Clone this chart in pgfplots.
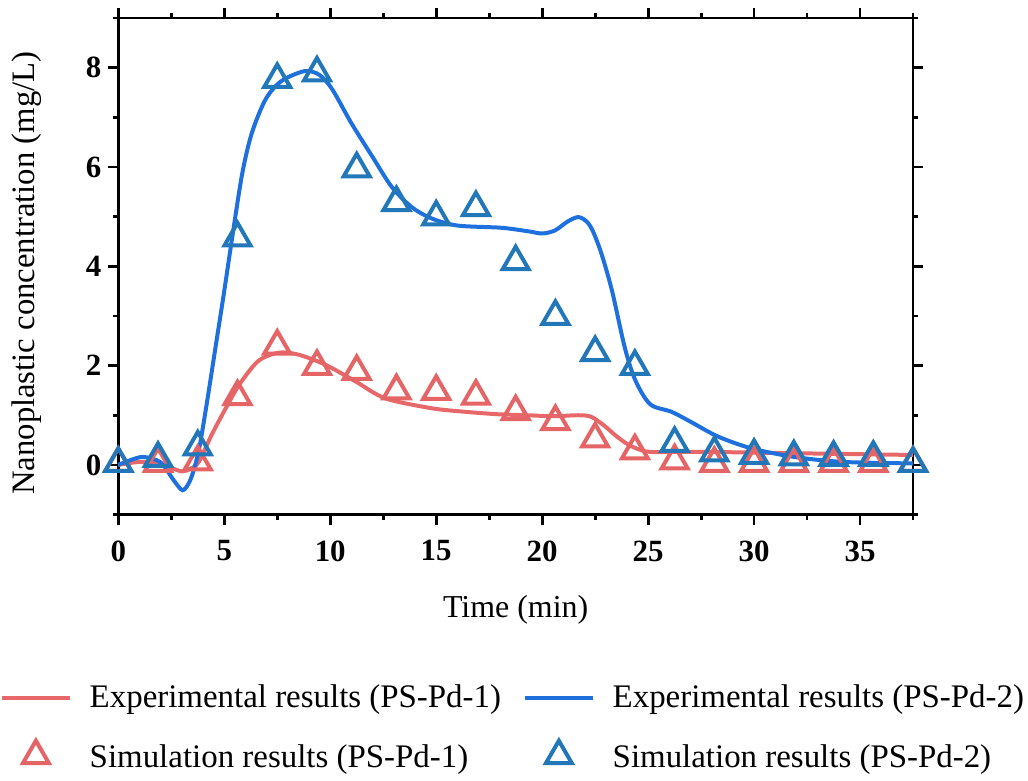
\documentclass[border=0pt]{standalone}
\usepackage{fontspec}
\setmainfont{Liberation Serif}
\usepackage{pgfplots}
\pgfplotsset{compat=1.18}

\definecolor{expred}{RGB}{232,104,106}
\definecolor{expblue}{RGB}{30,112,222}
\definecolor{simred}{RGB}{229,100,102}
\definecolor{simblue}{RGB}{33,119,184}

\begin{document}
\begin{tikzpicture}
\begin{axis}[
    scale only axis,
    width=398.5pt, height=249pt,
    xmin=0, xmax=37.5, ymin=-1, ymax=9,
    xtick={0,5,...,35}, minor xtick={2.5,7.5,...,37.5},
    ytick={0,2,4,6,8}, minor ytick={-1,1,3,5,7,9},
    tick align=outside,
    major tick length=5pt, minor tick length=2.5pt,
    axis line style={line width=1.4pt},
    every tick/.style={black, line width=1.4pt},
    tick label style={font=\fontsize{15.5}{18}\selectfont\bfseries},
    xticklabel style={yshift=-4.5pt},
    /pgf/number format/assume math mode=true,
    label style={font=\fontsize{16}{19}\selectfont},
    xlabel={Time (min)},
    xlabel style={at={(axis description cs:0.5,-0.207)}, anchor=base},
    ylabel={Nanoplastic concentration (mg/L)},
    ylabel style={font=\fontsize{16.4}{19}\selectfont,
        at={(axis description cs:-0.1154,0.486)}, anchor=center},
    clip=false,
    % a little white space above the frame, as in the original
    extra description/.code={\path (0,1) -- ++(0pt,9pt);},
    legend columns=2,
    legend cell align=left,
    legend style={draw=none, fill=none, inner xsep=0pt, inner ysep=3pt,
        at={(axis description cs:-0.1493,-0.322)}, anchor=north west,
        font=\fontsize{16.5}{19}\selectfont,
        row sep=12.9pt,
        /tikz/every odd column/.append style={column sep=7pt},
        /tikz/every even column/.append style={column sep=9pt}},
    legend image code/.code={\draw[mark repeat=2,mark phase=2,#1] plot coordinates {(0pt,0pt) (17pt,0pt) (34pt,0pt)};},
]

% experimental curves
\addplot[expred, line width=2pt, smooth] coordinates {
(0,0) (1.0,0.06) (1.9,0.03) (2.5,-0.06) (3.0,-0.13) (3.4,-0.08) (3.8,0.06)
(4.4,0.6) (5.07,1.14) (5.7,1.61) (6.6,2.09) (7.57,2.26) (8.5,2.22) (9.76,2.02)
(11.2,1.68) (12.6,1.34) (14.8,1.14) (16.35,1.07) (17.9,1.02) (19.3,1.0)
(20.5,0.98) (21.7,1.0) (22.3,0.97) (22.9,0.8) (23.5,0.58) (24.1,0.4)
(24.9,0.27) (26,0.26) (28,0.26) (32.7,0.23) (37.5,0.2)
};
\addlegendentry{Experimental results (PS-Pd-1)}

\addplot[expblue, line width=2pt, smooth] coordinates {
(0,0) (0.6,0.1) (1.2,0.16) (2.0,0.05) (2.6,-0.3) (3.03,-0.51) (3.35,-0.35)
(3.6,-0.05) (3.85,0.4) (4.2,1.3) (4.6,2.4) (5.0,3.5) (5.4,4.65) (5.85,5.87)
(6.3,6.68) (6.95,7.36) (7.7,7.73) (8.8,7.93) (9.5,7.85) (10.1,7.56) (11.0,6.88)
(12.0,6.2) (12.9,5.6) (13.85,5.19) (14.8,4.96) (16.0,4.82) (17.9,4.78)
(18.6,4.75) (19.4,4.70) (20.0,4.66) (20.6,4.72) (21.2,4.9) (21.7,4.99)
(22.1,4.9) (22.4,4.7) (22.8,4.25) (23.3,3.5) (23.9,2.36) (24.4,1.7)
(25.1,1.22) (26.1,1.07) (27.0,0.87) (28.3,0.57) (29.9,0.33) (31.9,0.16)
(34.2,0.06) (37.5,0.03)
};
\addlegendentry{Experimental results (PS-Pd-2)}

% simulation points
\addplot[only marks, simred, mark=triangle, mark size=7.5pt,
    mark options={line width=2pt, fill=white, yshift=0.8pt}] coordinates {
(0,0) (1.875,0.0) (3.75,0.03) (5.625,1.34) (7.5,2.36) (9.375,1.95)
(11.25,1.85) (13.125,1.46) (15,1.45) (16.875,1.35) (18.75,1.04)
(20.625,0.84) (22.5,0.49) (24.375,0.25) (26.25,0.05) (28.125,0.0)
(30,0.0) (31.875,0.0) (33.75,0.0) (35.625,0.0) (37.5,0.0)
};
\addlegendentry{Simulation results (PS-Pd-1)}

\addplot[only marks, simblue, mark=triangle, mark size=7.5pt,
    mark options={line width=2pt, fill=white, yshift=0.8pt}] coordinates {
(0,0.0) (1.875,0.1) (3.75,0.33) (5.625,4.54) (7.5,7.73) (9.375,7.86)
(11.25,5.93) (13.125,5.25) (15,4.96) (16.875,5.15) (18.75,4.06)
(20.625,2.96) (22.5,2.23) (24.375,1.95) (26.25,0.4) (28.125,0.21)
(30,0.16) (31.875,0.13) (33.75,0.12) (35.625,0.12) (37.5,0.0)
};
\addlegendentry{Simulation results (PS-Pd-2)}

\end{axis}
\end{tikzpicture}
\end{document}
